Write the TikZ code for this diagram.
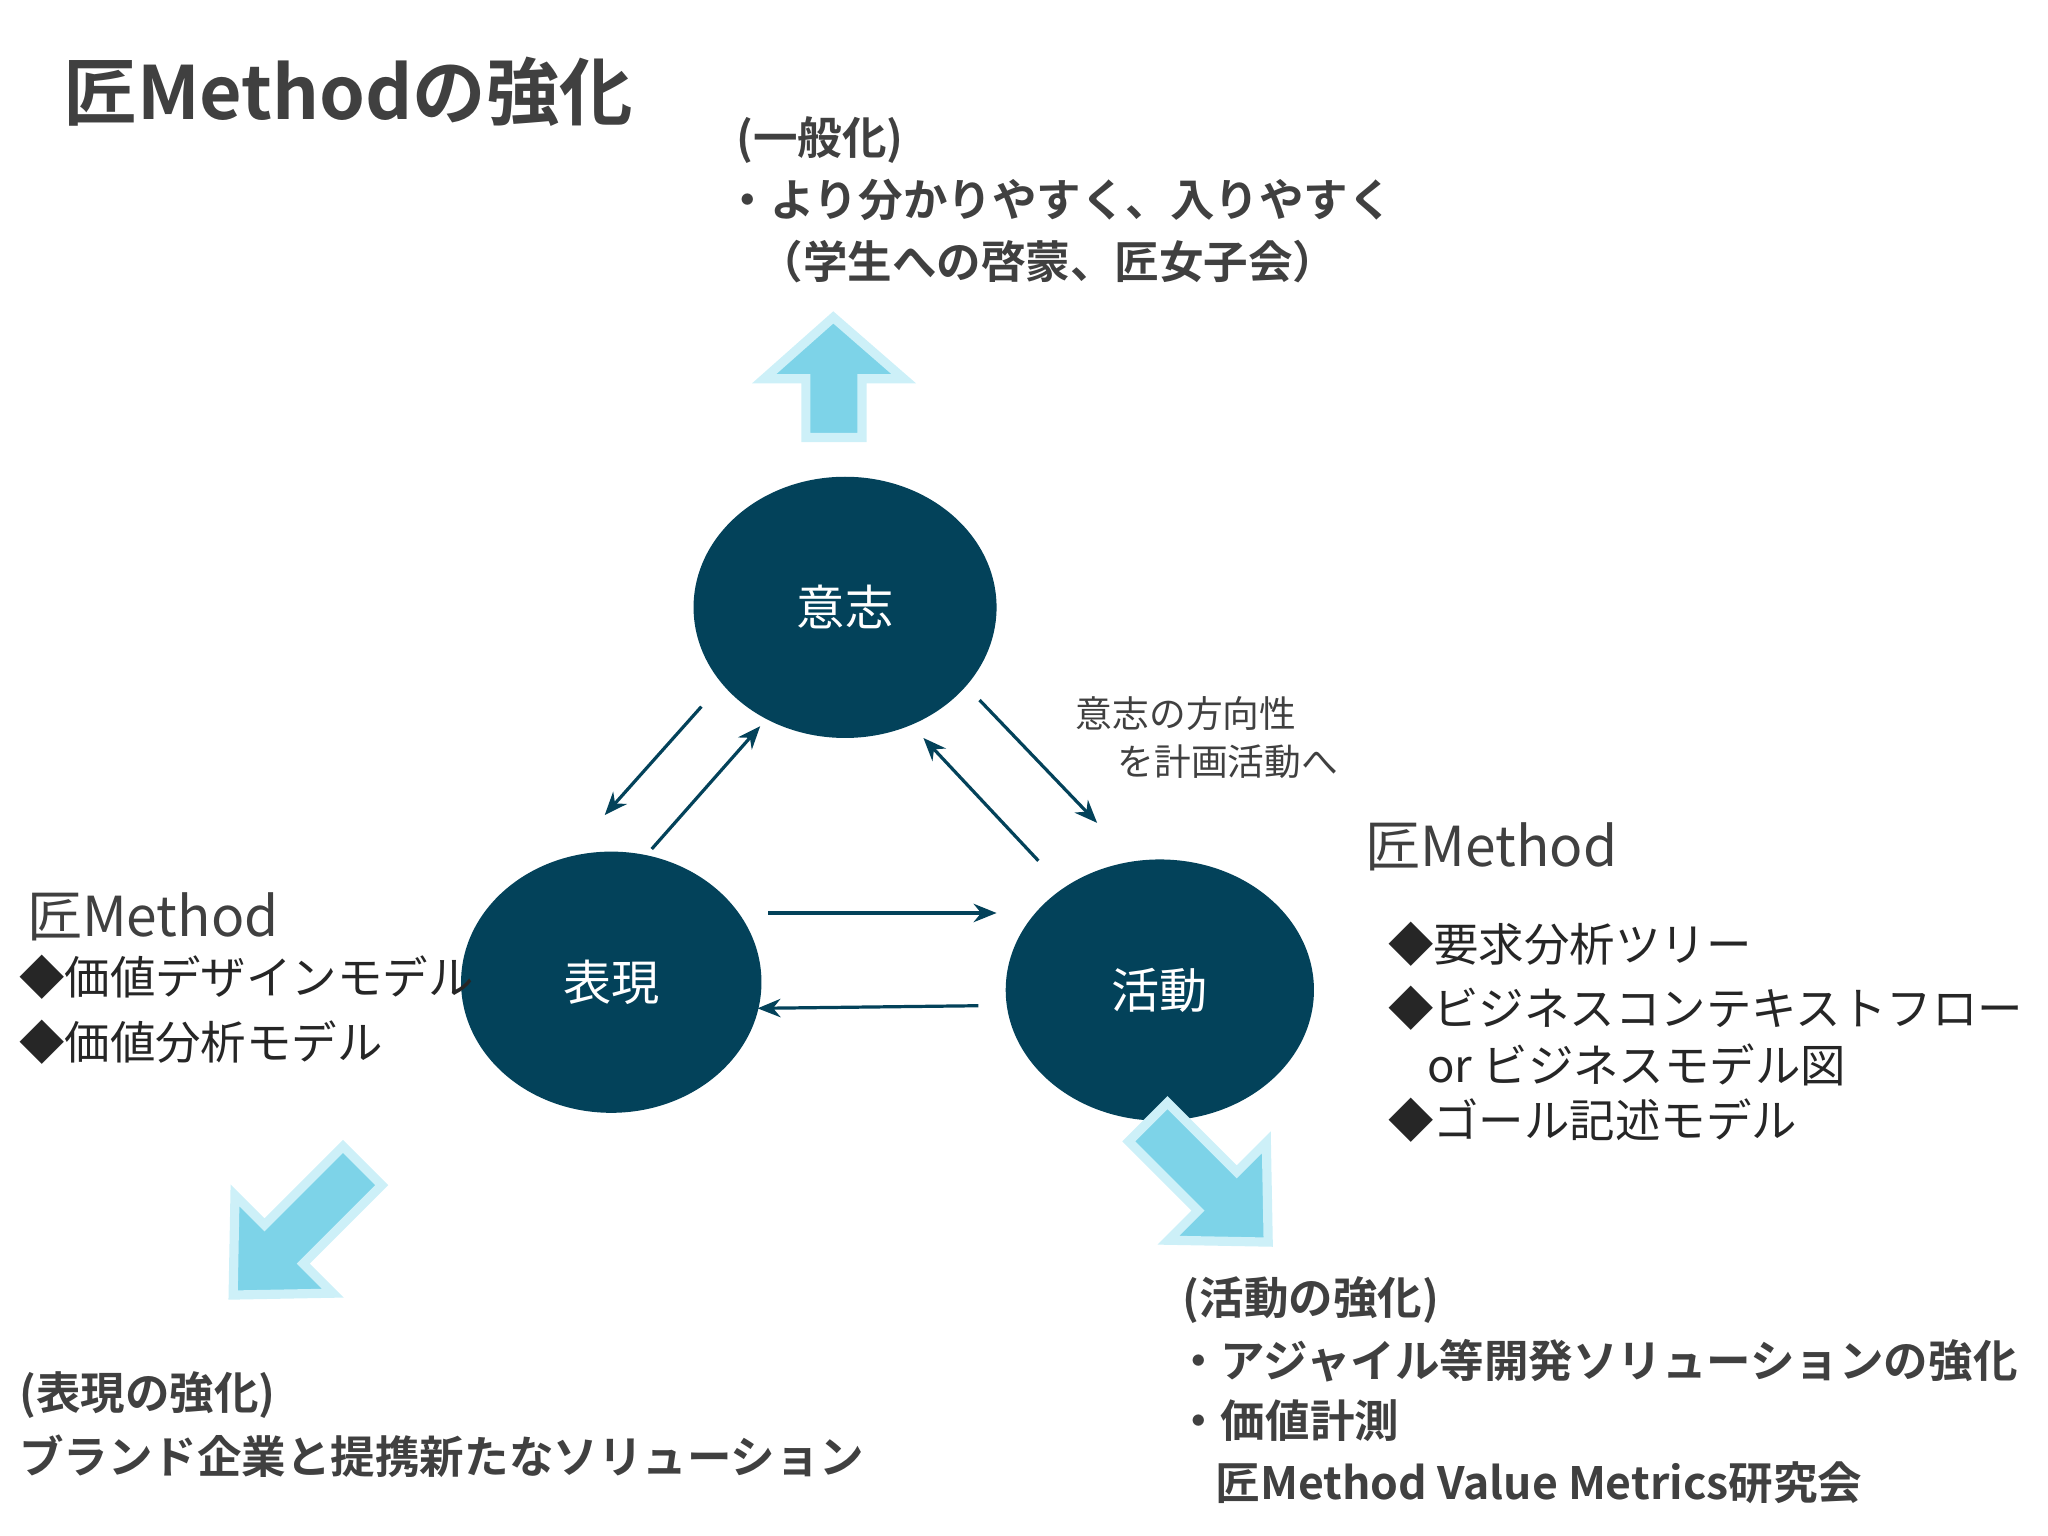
\documentclass[tikz,border=0pt]{standalone}
\usepackage{fontspec}
\setmainfont{Noto Sans CJK JP}
\newfontfamily\jpbold{Noto Sans CJK JP Bold}
\usetikzlibrary{arrows.meta,shapes.geometric}
\definecolor{teal1}{RGB}{3,66,90}
\definecolor{txt}{RGB}{64,64,64}
\definecolor{blue1}{RGB}{125,211,232}
\definecolor{glow}{RGB}{205,240,248}
\tikzset{
 circ/.style={ellipse,fill=teal1,text=white,font=\fontsize{10.5}{12}\selectfont},
 tline/.style={anchor=west,inner sep=0,text=txt,font=\jpbold\fontsize{9.7}{12}\selectfont},
 nline/.style={anchor=west,inner sep=0,text=black!85,font=\fontsize{9.9}{12}\selectfont},
 mhead/.style={anchor=west,inner sep=0,text=txt,font=\fontsize{12}{14}\selectfont},
 small/.style={anchor=west,inner sep=0,text=txt,font=\fontsize{8}{10}\selectfont},
 link/.style={draw=teal1,line width=0.7pt,-{Stealth[length=5pt,width=4pt]}},
 bigarrow/.style={fill=blue1,draw=glow,line width=2pt},
}
\begin{document}
\begin{tikzpicture}[x=0.1mm,y=-0.1mm]
\useasboundingbox (0,0) rectangle (1568,1176);
\node[anchor=west,inner sep=0,text=txt,font=\jpbold\fontsize{16}{19}\selectfont] (title) at (48,70) {匠Methodの強化};
\node[tline] (t1) at (563,107) {(一般化)};
\node[tline] (t2) at (555,153) {・より分かりやすく、入りやすく};
\node[tline] (t3) at (580,200) {（学生への啓蒙、匠女子会）};
% up arrow
\draw[bigarrow] (617,335) -- (617,290) -- (585,290) -- (638,243) -- (692,290) -- (660,290) -- (660,335) -- cycle;
% circles
\node[circ,minimum width=23.2mm,minimum height=20mm] (ishi) at (647,465) {意志};
\node[circ,minimum width=23mm,minimum height=20mm] (hyo) at (468,752) {表現};
\node[circ,minimum width=23.6mm,minimum height=20mm] (kat) at (888,758) {活動};
% links
\coordinate (a1) at (537,541); \coordinate (b1) at (463,624);
\coordinate (a2) at (499,650); \coordinate (b2) at (582,556);
\coordinate (a3) at (750,536); \coordinate (b3) at (840,630);
\coordinate (a4) at (795,659); \coordinate (b4) at (707,565);
\coordinate (a5) at (588,699); \coordinate (b5) at (763,699);
\coordinate (a6) at (749,770); \coordinate (b6) at (580,772);
\draw[link] (a1) -- (b1);
\draw[link] (a2) -- (b2);
\draw[link] (a3) -- (b3);
\draw[link] (a4) -- (b4);
\draw[link] (a5) -- (b5);
\draw[link] (a6) -- (b6);
\node[small] (l1) at (823,546) {意志の方向性};
\node[small] (l2) at (855,583) {を計画活動へ};
% right list
\node[mhead] (rm) at (1045,648) {匠Method};
\node[nline] (r1) at (1062,723) {◆要求分析ツリー};
\node[nline] (r2) at (1062,772) {◆ビジネスコンテキストフロー};
\node[nline] (r3) at (1092,815) {or ビジネスモデル図};
\node[nline] (r4) at (1062,858) {◆ゴール記述モデル};
% left list
\node[mhead] (lm) at (20,702) {匠Method};
\node[nline] (m1) at (14,748) {◆価値デザインモデル};
\node[nline] (m2) at (14,798) {◆価値分析モデル};
% diagonal arrows
\begin{scope}[shift={(228,942)},rotate=-135]
\draw[bigarrow] (-70,-21) -- (15,-21) -- (15,-53) -- (70,0) -- (15,53) -- (15,21) -- (-70,21) -- cycle;
\end{scope}
\begin{scope}[shift={(925,905)},rotate=-45]
\draw[bigarrow] (-65,-21) -- (10,-21) -- (10,-53) -- (65,0) -- (10,53) -- (10,21) -- (-65,21) -- cycle;
\end{scope}
% bottom texts
\node[tline] (bl1) at (14,1068) {(表現の強化)};
\node[tline] (bl2) at (14,1115) {ブランド企業と提携新たなソリューション};
\node[tline] (br1) at (905,995) {(活動の強化)};
\node[tline] (br2) at (900,1042) {・アジャイル等開発ソリューションの強化};
\node[tline] (br3) at (900,1088) {・価値計測};
\node[tline] (br4) at (930,1135) {匠Method Value Metrics研究会};
\end{tikzpicture}
\end{document}
